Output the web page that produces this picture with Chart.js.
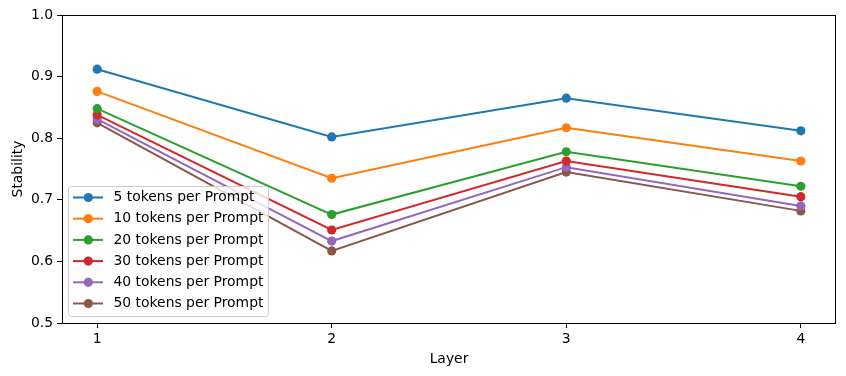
<!DOCTYPE html>
<html><head><meta charset="utf-8">
<script src="https://cdn.jsdelivr.net/npm/chart.js@4/dist/chart.umd.min.js"></script>
<style>html,body{margin:0;padding:0;background:#fff}#wrap{width:846px;height:376px}</style>
</head><body><div id="wrap"><canvas id="c" width="846" height="376"></canvas></div>
<script>
const layers = [1, 2, 3, 4];
const seriesLabels = ["5 tokens per Prompt","10 tokens per Prompt","20 tokens per Prompt","30 tokens per Prompt","40 tokens per Prompt","50 tokens per Prompt"];
const tokens5  = [0.912, 0.802, 0.865, 0.812];
const tokens10 = [0.876, 0.735, 0.817, 0.763];
const tokens20 = [0.848, 0.676, 0.778, 0.722];
const tokens30 = [0.838, 0.651, 0.763, 0.705];
const tokens40 = [0.831, 0.633, 0.753, 0.690];
const tokens50 = [0.825, 0.617, 0.745, 0.682];
const yTicks = [0.5, 0.6, 0.7, 0.8, 0.9, 1.0];
const colors = ["#1f77b4","#ff7f0e","#2ca02c","#d62728","#9467bd","#8c564b"];
const allSeries = [tokens5, tokens10, tokens20, tokens30, tokens40, tokens50];
const FONT = "DejaVu Sans";

const datasets = allSeries.map((s, i) => ({
  label: seriesLabels[i],
  data: s.map((v, j) => ({x: layers[j], y: v})),
  borderColor: colors[i], backgroundColor: colors[i],
  pointBackgroundColor: colors[i], pointBorderColor: colors[i],
  borderWidth: 2, pointRadius: 4.6, pointHoverRadius: 4.6, pointBorderWidth: 0,
  tension: 0
}));

const frame = {
  id: 'frame',
  afterDraw(chart) {
    const {ctx, chartArea: a} = chart;
    ctx.save();
    ctx.strokeStyle = '#000'; ctx.lineWidth = 1;
    ctx.strokeRect(Math.round(a.left)+0.5, Math.round(a.top)+0.5, Math.round(a.right-a.left)-1, Math.round(a.bottom-a.top));
    // legend
    const bx = 68.5, by = 186.5, bw = 200, bh = 130;
    ctx.fillStyle = 'rgba(255,255,255,0.8)';
    ctx.strokeStyle = '#cccccc';
    ctx.beginPath();
    ctx.roundRect(bx, by, bw, bh, 3);
    ctx.fill(); ctx.stroke();
    ctx.font = '13.9px "' + FONT + '"';
    ctx.textBaseline = 'middle';
    seriesLabels.forEach((lab, i) => {
      const y = 197.5 + i * 21.2;
      ctx.strokeStyle = colors[i]; ctx.lineWidth = 2;
      ctx.beginPath(); ctx.moveTo(73, y); ctx.lineTo(103, y); ctx.stroke();
      ctx.fillStyle = colors[i];
      ctx.beginPath(); ctx.arc(88.3, y, 4.6, 0, Math.PI*2); ctx.fill();
      ctx.fillStyle = '#000';
      ctx.fillText(lab, 113.5, y);
    });
    ctx.restore();
  }
};

new Chart(document.getElementById('c'), {
  type: 'line',
  data: { datasets },
  options: {
    responsive: false, animation: false, devicePixelRatio: 1,
    layout: { padding: { top: 15, right: 10, left: 0, bottom: 0 } },
    plugins: { legend: { display: false }, tooltip: { enabled: false } },
    scales: {
      x: {
        type: 'linear', min: 0.85, max: 4.15,
        afterBuildTicks: s => { s.ticks = layers.map(v => ({value: v})); },
        afterFit: s => { s.height = 53; },
        grid: { display: true, drawOnChartArea: false, tickLength: 5, color: '#000', tickColor: '#000' },
        border: { display: false },
        ticks: { color: '#000', font: { family: FONT, size: 13.9 }, padding: 3, maxRotation: 0, callback: v => String(v) },
        title: { display: true, text: 'Layer', color: '#000', font: { family: FONT, size: 13.9 }, padding: { top: 2, bottom: 8 } }
      },
      y: {
        min: 0.5, max: 1.0,
        afterBuildTicks: s => { s.ticks = yTicks.map(v => ({value: v})); },
        afterFit: s => { s.width = 62; },
        grid: { display: true, drawOnChartArea: false, tickLength: 5, color: '#000', tickColor: '#000' },
        border: { display: false },
        ticks: { color: '#000', font: { family: FONT, size: 13.9 }, padding: 4, callback: v => Number(v).toFixed(1) },
        title: { display: true, text: 'Stability', color: '#000', font: { family: FONT, size: 13.9 }, padding: { top: 10, bottom: 4 } }
      }
    }
  },
  plugins: [frame]
});
</script></body></html>
